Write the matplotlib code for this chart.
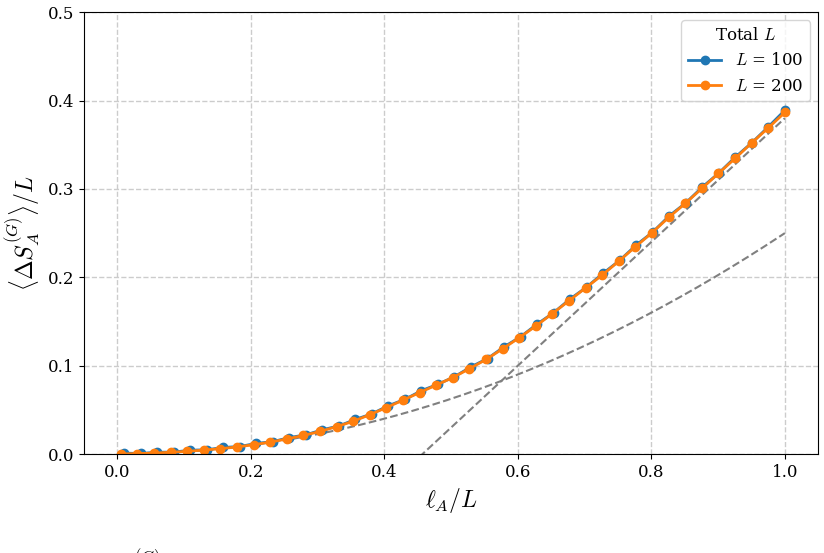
import numpy as np
import matplotlib
matplotlib.use("Agg")
import matplotlib.pyplot as plt

plt.rcParams["font.family"] = "DejaVu Serif"
plt.rcParams["mathtext.fontset"] = "cm"

# l_A / L grid and <dS_A^(G)>/L
x_L100 = [0.0100, 0.0348, 0.0595, 0.0843, 0.1090, 0.1338, 0.1585, 0.1833, 0.2080, 0.2328,
          0.2575, 0.2823, 0.3070, 0.3318, 0.3565, 0.3813, 0.4060, 0.4308, 0.4555, 0.4803,
          0.5050, 0.5298, 0.5545, 0.5793, 0.6040, 0.6288, 0.6535, 0.6783, 0.7030, 0.7278,
          0.7525, 0.7773, 0.8020, 0.8268, 0.8515, 0.8763, 0.9010, 0.9258, 0.9505, 0.9753, 1.0000]
y_L100 = [0.0010, 0.0006, 0.0020, 0.0022, 0.0043, 0.0048, 0.0074, 0.0085, 0.0120, 0.0140,
          0.0186, 0.0217, 0.0274, 0.0318, 0.0391, 0.0455, 0.0547, 0.0619, 0.0717, 0.0790,
          0.0875, 0.0987, 0.1080, 0.1213, 0.1327, 0.1470, 0.1599, 0.1755, 0.1889, 0.2046,
          0.2191, 0.2365, 0.2511, 0.2695, 0.2841, 0.3021, 0.3179, 0.3360, 0.3522, 0.3703, 0.3890]

x_L200 = [0.0050, 0.0299, 0.0548, 0.0796, 0.1045, 0.1294, 0.1543, 0.1791, 0.2040, 0.2289,
          0.2538, 0.2786, 0.3035, 0.3284, 0.3533, 0.3781, 0.4030, 0.4279, 0.4528, 0.4776,
          0.5025, 0.5274, 0.5523, 0.5771, 0.6020, 0.6269, 0.6518, 0.6766, 0.7015, 0.7264,
          0.7513, 0.7761, 0.8010, 0.8259, 0.8508, 0.8756, 0.9005, 0.9254, 0.9503, 0.9751, 1.0000]
y_L200 = [0.0000, 0.0005, 0.0010, 0.0020, 0.0030, 0.0045, 0.0060, 0.0080, 0.0105, 0.0135,
          0.0170, 0.0210, 0.0255, 0.0310, 0.0370, 0.0445, 0.0525, 0.0610, 0.0695, 0.0780,
          0.0865, 0.0965, 0.1070, 0.1190, 0.1316, 0.1448, 0.1590, 0.1734, 0.1880, 0.2025,
          0.2183, 0.2345, 0.2504, 0.2677, 0.2836, 0.3005, 0.3175, 0.3345, 0.3520, 0.3690, 0.3865]

# asymptotic guides: quad_coef * x^2 and lin_slope * x + lin_icpt
quad_coef = 0.25
lin_slope = 0.70
lin_icpt = -0.32

fig = plt.figure(figsize=(8.24, 5.53), dpi=100)
ax = fig.add_axes([0.102, 0.179, 0.891, 0.799])

xs = np.linspace(0, 1, 200)
ax.plot(xs, quad_coef * xs**2, '--', color='gray', lw=1.5)
xl = np.linspace(0.44, 1, 100)
ax.plot(xl, lin_slope * xl + lin_icpt, '--', color='gray', lw=1.5)

ax.plot(x_L100, y_L100, 'o-', color='tab:blue', lw=2, ms=6, label='$L$ = 100')
ax.plot(x_L200, y_L200, 'o-', color='tab:orange', lw=2, ms=6, label='$L$ = 200')

ax.set_xlim(-0.05, 1.05)
ax.set_ylim(0, 0.5)
ax.set_xticks([0.0, 0.2, 0.4, 0.6, 0.8, 1.0])
ax.set_yticks([0.0, 0.1, 0.2, 0.3, 0.4, 0.5])
ax.tick_params(labelsize=12)
ax.grid(True, linestyle='--', color='#cccccc', lw=1)

ax.set_xlabel(r'$\ell_A/L$', fontsize=17)
ax.set_ylabel(r'$\langle \Delta S_A^{(G)} \rangle / L$', fontsize=17)

ax.legend(title='Total $L$', loc='upper right', fontsize=12, title_fontsize=12)

# caption line that is cut off by the lower edge of the figure
fig.text(0.118, 0.0105, r'$\Delta S_A^{(G)}$', fontsize=17, va='top')

fig.savefig('out.png', dpi=100)
